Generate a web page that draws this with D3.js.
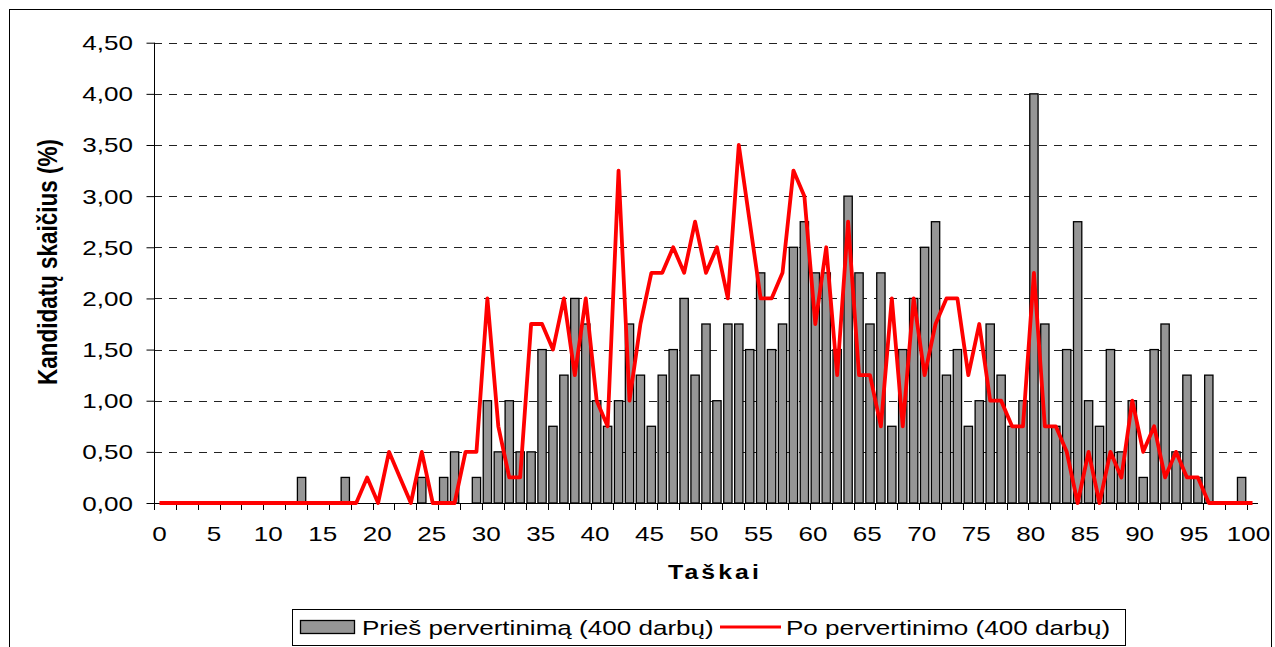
<!DOCTYPE html>
<html>
<head>
<meta charset="utf-8">
<script src="https://cdn.jsdelivr.net/npm/d3@7"></script>
<style>
  body { margin: 0; background: #fff; }
  svg { display: block; }
  text { font-family: "Liberation Sans", Arial, sans-serif; fill: #000; }
</style>
</head>
<body>
<svg id="vis" width="1275" height="647"></svg>
<script>
// Duomenys
const taskai = d3.range(0, 101);
const pries = [
  0, 0, 0, 0, 0, 0, 0, 0, 0, 0,
  0, 0, 0, .25, 0, 0, 0, .25, 0, 0,
  0, 0, 0, 0, .25, 0, .25, .5, 0, .25,
  1, .5, 1, .5, .5, 1.5, .75, 1.25, 2, 1.75,
  1, .75, 1, 1.75, 1.25, .75, 1.25, 1.5, 2, 1.25,
  1.75, 1, 1.75, 1.75, 1.5, 2.25, 1.5, 1.75, 2.5, 2.75,
  2.25, 2.25, 1.5, 3, 2.25, 1.75, 2.25, .75, 1.5, 2,
  2.5, 2.75, 1.25, 1.5, .75, 1, 1.75, 1.25, .75, 1,
  4, 1.75, .75, 1.5, 2.75, 1, .75, 1.5, .5, 1,
  .25, 1.5, 1.75, .5, 1.25, .25, 1.25, 0, 0, .25, 0
];
const po = [
  0, 0, 0, 0, 0, 0, 0, 0, 0, 0,
  0, 0, 0, 0, 0, 0, 0, 0, 0, .25,
  0, .5, .25, 0, .5, 0, 0, 0, .5, .5,
  2, .75, .25, .25, 1.75, 1.75, 1.5, 2, 1.25, 2,
  1, .75, 3.25, 1, 1.75, 2.25, 2.25, 2.5, 2.25, 2.75,
  2.25, 2.5, 2, 3.5, 2.75, 2, 2, 2.25, 3.25, 3,
  1.75, 2.5, 1.25, 2.75, 1.25, 1.25, .75, 2, .75, 2,
  1.25, 1.75, 2, 2, 1.25, 1.75, 1, 1, .75, .75,
  2.25, .75, .75, .5, 0, .5, 0, .5, .25, 1,
  .5, .75, .25, .5, .25, .25, 0, 0, 0, 0, 0
];
const yTicks = [0, 0.5, 1, 1.5, 2, 2.5, 3, 3.5, 4, 4.5];
const xLabels = d3.range(0, 101, 5);
const xTickMarks = d3.range(0, 101, 2);
const seriesNames = ["Prieš pervertinimą (400 darbų)", "Po pervertinimo (400 darbų)"];

const SVG = d3.select("#vis");
const STRETCH = 1.24; // tekstas paveiksle ištemptas horizontaliai

const x = d3.scaleBand().domain(taskai).range([154, 1258]).padding(0);
const y = d3.scaleLinear().domain([0, 4.5]).range([503, 42.7]);
const bw = x.bandwidth();
const cx = d => x(d) + bw / 2;
const fmt = v => d3.format(".2f")(v).replace(".", ",");

function stretch(sel) {
  sel.each(function () {
    const len = this.getComputedTextLength();
    d3.select(this).attr("textLength", len * STRETCH).attr("lengthAdjust", "spacingAndGlyphs");
  });
}

// Rėmelis
SVG.append("rect")
  .attr("x", 9.5).attr("y", 9.5).attr("width", 1262).attr("height", 660)
  .attr("fill", "none").attr("stroke", "#000").attr("stroke-width", 1);

// Tinklelis
SVG.append("g")
  .selectAll("line")
  .data(yTicks.filter(d => d > 0))
  .join("line")
  .attr("x1", 154).attr("x2", 1258)
  .attr("y1", d => Math.round(y(d)) + 0.5).attr("y2", d => Math.round(y(d)) + 0.5)
  .attr("stroke", "#222").attr("stroke-width", 1)
  .attr("stroke-dasharray", "8,7");

// Stulpeliai
const barW = bw * 0.76;
SVG.append("g")
  .selectAll("rect")
  .data(taskai.filter(d => pries[d] > 0))
  .join("rect")
  .attr("x", d => cx(d) - barW / 2)
  .attr("y", d => y(pries[d]))
  .attr("width", barW)
  .attr("height", d => y(0) - y(pries[d]))
  .attr("fill", "#969696")
  .attr("stroke", "#000")
  .attr("stroke-width", 1.3);

// Ašys
const yAxis = SVG.append("g")
  .attr("transform", "translate(154.5,0)")
  .call(d3.axisLeft(y).tickValues(yTicks).tickSize(8).tickFormat(""));
yAxis.select(".domain").attr("d", `M0,${y(4.5)}V${y(0)}`).attr("stroke", "#000");
yAxis.selectAll(".tick line").attr("stroke", "#000");

SVG.append("g")
  .selectAll("text")
  .data(yTicks)
  .join("text")
  .attr("x", 133).attr("y", d => y(d) + 7.5)
  .attr("text-anchor", "end")
  .attr("font-size", 21)
  .text(fmt)
  .call(stretch);

const xAxis = SVG.append("g")
  .attr("transform", "translate(0,503.5)")
  .call(d3.axisBottom(x).tickValues(xLabels).tickSize(0).tickFormat(""));
xAxis.select(".domain").attr("d", "M154,0H1258").attr("stroke", "#000");

SVG.append("g")
  .selectAll("line")
  .data(xTickMarks)
  .join("line")
  .attr("x1", d => Math.round(x(d)) + 0.5).attr("x2", d => Math.round(x(d)) + 0.5)
  .attr("y1", 503).attr("y2", 510)
  .attr("stroke", "#000");

SVG.append("g")
  .selectAll("text")
  .data(xLabels)
  .join("text")
  .attr("x", d => cx(d) - d * 0.04).attr("y", 541)
  .attr("text-anchor", "middle")
  .attr("font-size", 21)
  .text(d => d)
  .call(stretch);

// Linija
const line = d3.line().x(d => cx(d)).y(d => y(po[d]));
SVG.append("path")
  .datum(taskai)
  .attr("d", line)
  .attr("fill", "none")
  .attr("stroke", "#ff0000")
  .attr("stroke-width", 3.8)
  .attr("stroke-linejoin", "round");

// Ašių pavadinimai
SVG.append("text")
  .attr("x", 715).attr("y", 579)
  .attr("text-anchor", "middle")
  .attr("font-size", 20).attr("font-weight", "bold")
  .attr("letter-spacing", 2.5)
  .text("Taškai")
  .call(stretch);

SVG.append("text")
  .attr("transform", `translate(57,262) scale(${STRETCH},1) rotate(-90)`)
  .attr("text-anchor", "middle")
  .attr("font-size", 22.5).attr("font-weight", "bold")
  .text("Kandidatų skaičius (%)");

// Legenda
const leg = SVG.append("g");
leg.append("rect")
  .attr("x", 292.5).attr("y", 609.5).attr("width", 833).attr("height", 36)
  .attr("fill", "#fff").attr("stroke", "#000");
leg.append("rect")
  .attr("x", 300.5).attr("y", 620.5).attr("width", 54).attr("height", 13)
  .attr("fill", "#969696").attr("stroke", "#000").attr("stroke-width", 1.3);
leg.append("text")
  .attr("x", 362).attr("y", 635)
  .attr("font-size", 21)
  .text(seriesNames[0])
  .call(stretch);
leg.append("line")
  .attr("x1", 720).attr("x2", 781).attr("y1", 627).attr("y2", 627)
  .attr("stroke", "#ff0000").attr("stroke-width", 3.2);
leg.append("text")
  .attr("x", 786).attr("y", 635)
  .attr("font-size", 21)
  .text(seriesNames[1])
  .call(stretch);
</script>
</body>
</html>
